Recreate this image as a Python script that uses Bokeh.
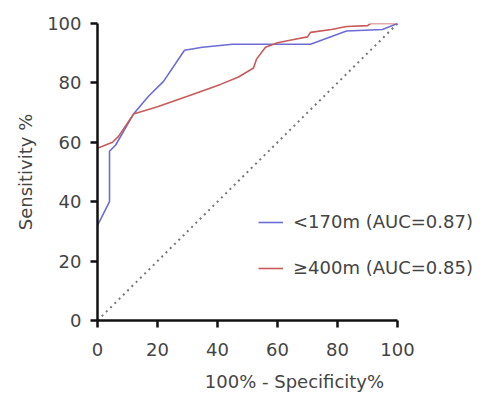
from bokeh.plotting import figure
from bokeh.models import Legend, LegendItem, Range1d, FixedTicker
from bokeh.embed import file_html
from bokeh.resources import INLINE

# Data
blue_x = [0, 4, 4, 6, 12, 17, 22, 29, 35, 45, 71, 83, 95, 100]
blue_y = [32, 40, 57, 59, 69.5, 75.5, 80.5, 91, 92, 93, 93, 97.5, 98, 100]
red_x = [0, 5, 7, 12, 20, 30, 41, 47, 52, 53, 56, 60, 65, 70, 71, 78, 83, 90, 91, 100]
red_y = [58, 60, 62, 69.5, 72, 75.5, 79.5, 82, 85, 88, 92, 93.5, 94.5, 95.5, 97, 98, 99, 99.3, 100, 100]
ref_x = [0, 100]
ref_y = [0, 100]
ticks = [0, 20, 40, 60, 80, 100]
labels = ["<170m (AUC=0.87)", "\u2265400m (AUC=0.85)"]

p = figure(width=494, height=394, output_backend="svg", toolbar_location=None,
           x_range=Range1d(0, 131.33), y_range=Range1d(0, 100),
           min_border_left=97, min_border_right=3, min_border_top=23, min_border_bottom=73)
p.outline_line_color = None
p.grid.visible = False

p.line(ref_x, ref_y, line_color="#777777", line_width=2, line_dash="2 4")
rb = p.line(blue_x, blue_y, line_color="#6c6cd4", line_width=1.6)
rr = p.line(red_x, red_y, line_color="#c85a5a", line_width=1.6)

font = "DejaVu Sans"
for ax in (p.xaxis[0], p.yaxis[0]):
    ax.ticker = FixedTicker(ticks=ticks)
    ax.bounds = (0, 100)
    ax.axis_line_width = 2.5
    ax.axis_line_color = "#111111"
    ax.major_tick_line_width = 2.5
    ax.major_tick_line_color = "#111111"
    ax.major_tick_out = 7
    ax.major_tick_in = 0
    ax.minor_tick_line_color = None
    ax.major_label_text_font = font
    ax.major_label_text_font_size = "18px"
    ax.major_label_text_color = "#444444"
    ax.axis_label_text_font = font
    ax.axis_label_text_font_size = "18px"
    ax.axis_label_text_font_style = "normal"
    ax.axis_label_text_color = "#444444"

p.xaxis[0].axis_label = "100% - Specificity%"
p.yaxis[0].axis_label = "Sensitivity %"
p.xaxis[0].major_label_standoff = 15
p.yaxis[0].major_label_standoff = 9
p.xaxis[0].axis_label_standoff = 12
p.yaxis[0].axis_label_standoff = 8

legend = Legend(items=[LegendItem(label=labels[0], renderers=[rb]),
                       LegendItem(label=labels[1], renderers=[rr])],
                location=(161, 42), border_line_color=None, background_fill_alpha=0,
                label_text_font=font, label_text_font_size="18px", label_text_color="#444444",
                glyph_width=25, spacing=25, label_standoff=10)
p.add_layout(legend)

open("out.html", "w").write(file_html(p, INLINE))
